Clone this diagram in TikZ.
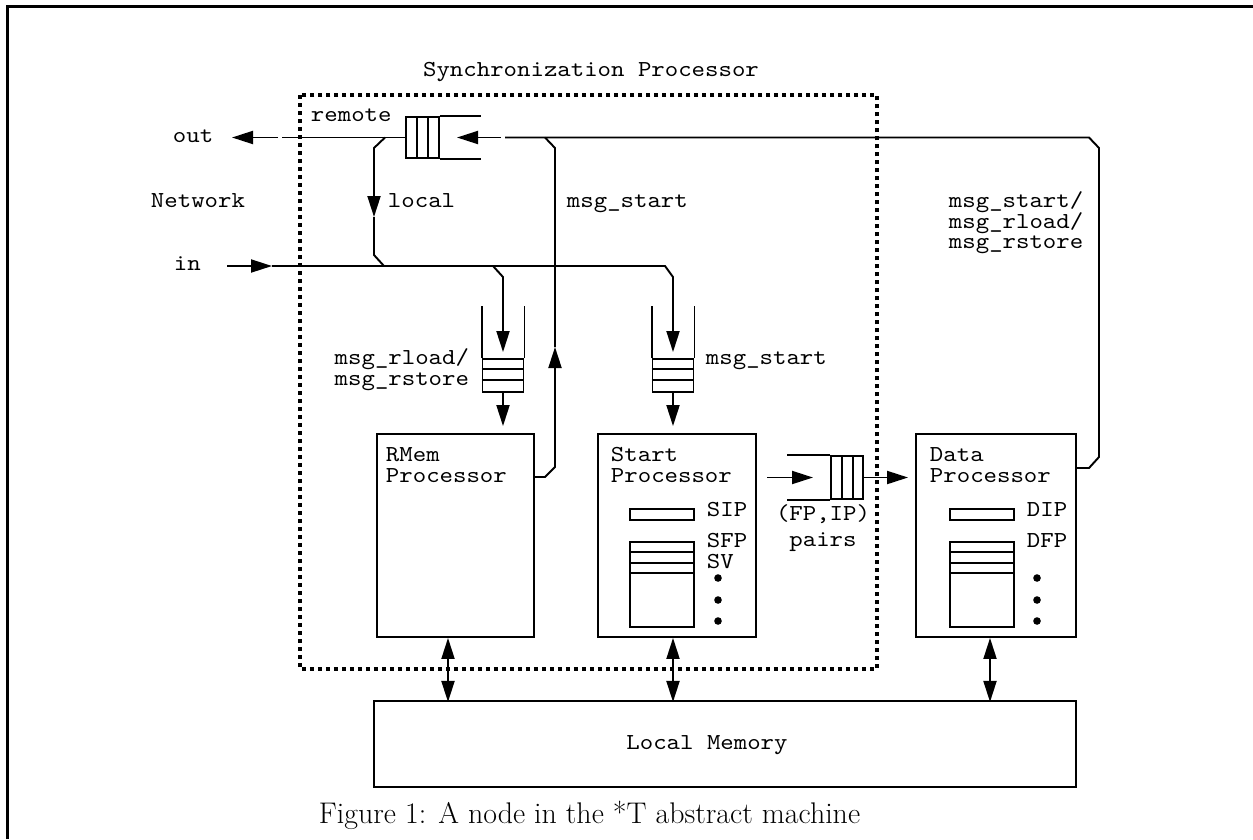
\documentclass[tikz,border=0pt]{standalone}
\usepackage{fontspec}
\setmonofont{lmmono10-regular.otf}[FakeStretch=1.12]
\usepackage{tikz}
\usetikzlibrary{
    arrows.meta,
    calc
}
\newcommand{\lblfont}{\fontsize{13}{11.7}\selectfont\ttfamily}
\newcommand{\capfont}{\fontsize{17}{20}\selectfont}
\tikzstyle{arrow} = [
    -{Triangle[length=0.42cm, width=0.26cm]}
]
\tikzstyle{dblarrow} = [
    {Triangle[length=0.42cm, width=0.26cm]}-{Triangle[length=0.42cm, width=0.26cm]}
]
\tikzstyle{lbl} = [font=\lblfont, inner sep=0pt, text height=1.45ex, text depth=0.2ex]
\tikzstyle{proc} = [draw, rectangle, inner sep=0pt]
\tikzstyle{qbody} = [draw, rectangle, inner sep=0pt]

\begin{document}
\begin{tikzpicture}[x=0.02cm, y=-0.02cm, line width=1.1pt]
\useasboundingbox (0,0) rectangle (1253,839);

% Rahmen
\draw[line width=0.06cm] (7.5,839) -- (7.5,6.5) -- (1253,6.5);

% Synchronization Processor
\draw[line width=0.07cm, dash pattern=on 0.08cm off 0.08cm] (300,95) rectangle (877,669);
\node[lbl] (synctitle) at (591,72) {Synchronization Processor};

% Prozessoren und Speicher
\node[proc, minimum width=3.14cm, minimum height=4.06cm] (rmem) at (455.5,535.5) {};
\node[proc, minimum width=3.16cm, minimum height=4.06cm] (start) at (677,535.5) {};
\node[proc, minimum width=3.2cm, minimum height=4.06cm] (data) at (996,535.5) {};
\node[proc, minimum width=14.04cm, minimum height=1.72cm] (mem) at (725,744) {};
\node[lbl] (memtxt) at (707,745) {Local Memory};

\node[lbl, anchor=west] (rmemtxt) at (385,457) {RMem};
\node[lbl, anchor=west] (rmemtxtb) at ($(rmemtxt.west)+(0,20.5)$) {Processor};
\node[lbl, anchor=west] (starttxt) at (610,457) {Start};
\node[lbl, anchor=west] (starttxtb) at ($(starttxt.west)+(0,20.5)$) {Processor};
\node[lbl, anchor=west] (datatxt) at (929,457) {Data};
\node[lbl, anchor=west] (datatxtb) at ($(datatxt.west)+(0,20.5)$) {Processor};

% Register
\foreach \x in {630,950} {
    \draw (\x,509) rectangle ++(64,11);
    \draw (\x,542) rectangle ++(64,85);
    \foreach \y in {552,563,573}
        \draw (\x,\y) -- ++(64,0);
}
\node[lbl, anchor=west] (sip) at (706,512) {SIP};
\node[lbl, anchor=west] (sfp) at (706,543) {SFP};
\node[lbl, anchor=west] (sv) at ($(sfp.west)+(0,20.5)$) {SV};
\node[lbl, anchor=west] (dip) at (1026,512) {DIP};
\node[lbl, anchor=west] (dfp) at (1026,543) {DFP};
\foreach \y in {578,600,621} {
    \fill (718,\y) circle (3.8);
    \fill (1037,\y) circle (3.8);
}

% Warteschlangen
\node[qbody, minimum width=0.66cm, minimum height=0.82cm] (remq) at (422.5,137.5) {};
\draw (remq.north east) -- ++(41,0) (remq.south east) -- ++(41,0);
\foreach \x in {417,428}
    \draw (\x,117) -- (\x,158);

\node[qbody, minimum width=0.82cm, minimum height=0.66cm] (rmemq) at (503,375.5) {};
\node[qbody, minimum width=0.82cm, minimum height=0.66cm] (startq) at (673,375.5) {};
\foreach \q in {rmemq,startq} {
    \draw (\q.north west) -- ++(0,-52) (\q.north east) -- ++(0,-52);
    \draw ($(\q.north west)+(0,11)$) -- ++(41,0);
    \draw ($(\q.north west)+(0,22)$) -- ++(41,0);
}

\node[qbody, minimum width=0.64cm, minimum height=0.86cm] (fpq) at (847,477.5) {};
\draw (fpq.north west) -- ++(-43,0) (fpq.south west) -- ++(-43,0);
\foreach \x in {842,853}
    \draw (\x,456) -- (\x,499);

% Beschriftungen
\node[lbl, anchor=west] (remotetxt) at (310,117) {remote};
\node[lbl, anchor=west] (outtxt) at (172,138) {out};
\node[lbl, anchor=west] (nettxt) at (150,203) {Network};
\node[lbl, anchor=west] (intxt) at (173,266) {in};
\node[lbl, anchor=west] (localtxt) at (387,203) {local};
\node[lbl, anchor=west] (msgtxt) at (566,203) {msg\_start};
\node[lbl, anchor=west] (rettxt) at (948,203) {msg\_start/};
\node[lbl, anchor=west] (rettxtb) at ($(rettxt.west)+(0,20.5)$) {msg\_rload/};
\node[lbl, anchor=west] (rettxtc) at ($(rettxtb.west)+(0,20.5)$) {msg\_rstore};
\node[lbl, anchor=east] (rmemqtxt) at (470,360) {msg\_rload/};
\node[lbl, anchor=east] (rmemqtxtb) at ($(rmemqtxt.east)+(0,20.5)$) {msg\_rstore};
\node[lbl, anchor=west] (startqtxt) at (705,360) {msg\_start};
\node[lbl] (fptxt) at (823,516) {(FP,IP)};
\node[lbl] (pairstxt) at (823,542) {pairs};

% Netzwerk: out
\coordinate (outend) at (232,137.5);
\draw (remq.west) -- ($(outend)+(50,0)$);
\draw[arrow] ($(outend)+(46,0)$) -- (outend);

% Netzwerk: in
\coordinate (inend) at (227,266);
\draw[arrow] (inend) -- ++(45,0);
\draw[arrow] ($(inend)+(45,0)$) -- (665,266) -- (673,277) -- ($(startq.north)+(0,-6)$);
\draw[arrow] (493,266) -- (503,277) -- ($(rmemq.north)+(0,-6)$);

% local
\draw[arrow] (385,137.5) -- (374,148) -- (374,217);
\draw (374,217) -- (374,255) -- (384,266);

% Warteschlangen zu Prozessoren
\draw[arrow, shorten >=0.14cm] (rmemq.south) -- (rmemq.south |- rmem.north);
\draw[arrow, shorten >=0.14cm] (startq.south) -- (startq.south |- start.north);

% RMem -> remote
\coordinate (rmemout) at (534,477);
\draw[arrow] (rmemout) -- (545,477) -- (555,467) -- (555,347);
\draw (555,347) -- (555,148) -- (545,137.5);

% Data -> remote
\coordinate (dataout) at (1076,468);
\draw (dataout) -- (1089,468) -- (1099,457) -- (1099,148) -- (1089,137.5) -- (505,137.5);
\draw[arrow] (501,137.5) -- (457,137.5);

% Start -> (FP,IP) -> Data
\draw[arrow] (767,477.5) -- (813,477.5);
\draw[arrow, shorten >=0.14cm] (fpq.east) -- (fpq.east -| data.west);

% Speicherzugriffe
\foreach \p/\dx in {rmem/-7.5, start/-4, data/-6}
    \draw[dblarrow] ($(\p.south)+(\dx,0)$) -- ++(0,64);

% Bildunterschrift
\node[font=\capfont, anchor=base west, inner sep=0pt] (caption) at (318,823) {Figure 1: A node in the *T abstract machine};

\end{tikzpicture}
\end{document}
